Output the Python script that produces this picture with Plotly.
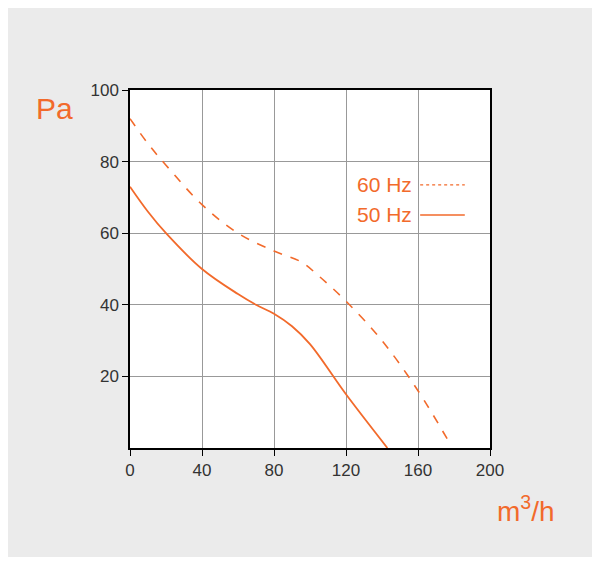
import plotly.graph_objects as go

# airflow (m3/h) vs pressure (Pa)
q60 = [0, 10, 20, 40, 60, 80, 95, 105, 120, 140, 160, 178]
p60 = [92, 85, 79, 68, 60, 55, 52, 48, 41, 30, 16, 1]
q50 = [0, 10, 20, 40, 60, 70, 80, 90, 100, 120, 143]
p50 = [73, 66, 60, 50, 43, 40, 37.5, 34, 29, 15, 0]

orange = '#f26a2b'
fig = go.Figure()
fig.add_trace(go.Scatter(x=q60, y=p60, mode='lines', name='60 Hz',
                         line=dict(color=orange, width=1.6, dash='dash', shape='spline')))
fig.add_trace(go.Scatter(x=q50, y=p50, mode='lines', name='50 Hz',
                         line=dict(color=orange, width=1.8, shape='spline')))

# legend drawn by hand
fig.add_shape(type='line', xref='paper', yref='paper', x0=0.806, x1=0.93, y0=0.735, y1=0.735,
              line=dict(color=orange, width=1.4, dash='dot'))
fig.add_shape(type='line', xref='paper', yref='paper', x0=0.806, x1=0.93, y0=0.651, y1=0.651,
              line=dict(color=orange, width=1.6))
fig.add_annotation(xref='paper', yref='paper', x=0.79, y=0.735, text='60 Hz', showarrow=False,
                   xanchor='right', yanchor='middle', font=dict(size=21, color=orange))
fig.add_annotation(xref='paper', yref='paper', x=0.79, y=0.651, text='50 Hz', showarrow=False,
                   xanchor='right', yanchor='middle', font=dict(size=21, color=orange))
fig.add_annotation(xref='paper', yref='paper', x=-0.21, y=1.0, text='Pa', showarrow=False,
                   xanchor='center', yanchor='top', font=dict(size=30, color=orange))
fig.add_annotation(xref='paper', yref='paper', x=1.1, y=-0.17, text='m<sup>3</sup>/h', showarrow=False,
                   xanchor='center', yanchor='middle', font=dict(size=28, color=orange))

axis = dict(showgrid=True, gridcolor='#999999', gridwidth=0.8, showline=True, linecolor='black',
            linewidth=1.5, mirror=True, ticks='outside', ticklen=6, tickcolor='black',
            tickfont=dict(size=17, color='#333333'), zeroline=False)
fig.update_xaxes(range=[0, 200], tickvals=[0, 40, 80, 120, 160, 200], **axis)
fig.update_yaxes(range=[0, 100], tickvals=[20, 40, 60, 80, 100], **axis)
fig.update_layout(width=584, height=549, margin=dict(l=122, r=102, t=82, b=109),
                  paper_bgcolor='#ebebeb', plot_bgcolor='white', showlegend=False,
                  font=dict(family='Liberation Sans, Arial'))
fig.write_html("out.html")
